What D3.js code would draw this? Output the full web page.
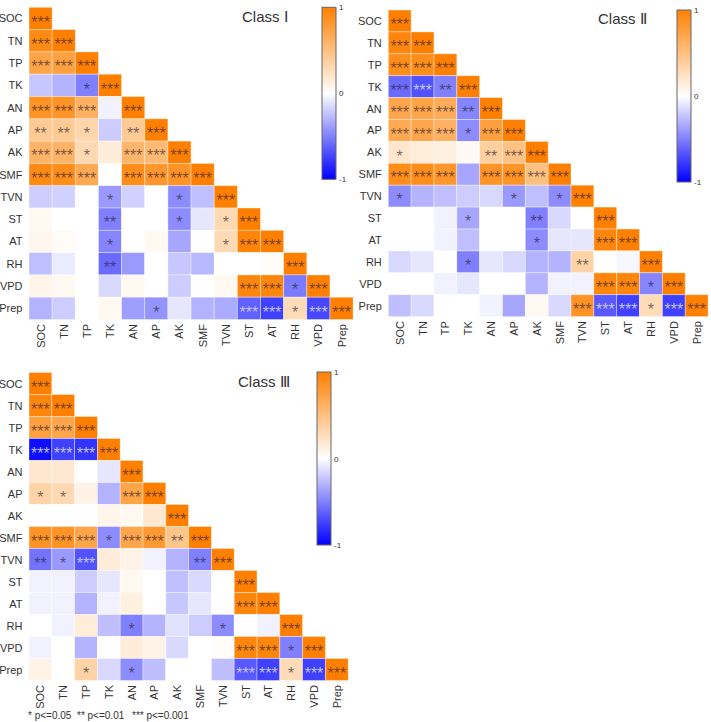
<!DOCTYPE html>
<html><head><meta charset="utf-8">
<script src="https://cdn.jsdelivr.net/npm/d3@7/dist/d3.min.js"></script>
<style>html,body{margin:0;padding:0;background:#fff;}svg{display:block;}</style>
</head><body>
<script>
const variables = ["SOC","TN","TP","TK","AN","AP","AK","SMF","TVN","ST","AT","RH","VPD","Prep"];

const classIValues = [
  [1],
  [0.92, 1],
  [0.72, 0.75, 1],
  [-0.22, -0.3, -0.5, 1],
  [0.85, 0.85, 0.62, -0.05, 1],
  [0.42, 0.42, 0.33, -0.2, 0.42, 1],
  [0.6, 0.6, 0.3, 0.15, 0.58, 0.55, 1],
  [0.92, 0.9, 0.68, 0.0, 0.9, 0.82, 0.85, 1],
  [-0.2, -0.18, 0.0, -0.4, -0.18, 0.0, -0.45, -0.25, 1],
  [0.05, 0.0, 0.0, -0.5, 0.0, 0.0, -0.45, -0.1, 0.3, 1],
  [0.07, 0.03, 0.0, -0.48, 0.0, 0.05, -0.35, 0.0, 0.3, 0.97, 1],
  [-0.25, -0.08, 0.0, -0.58, -0.4, 0.0, -0.22, -0.28, 0.0, 0.0, 0.02, 1],
  [0.08, 0.05, 0.0, -0.15, 0.05, 0.0, -0.2, 0.0, 0.05, 0.95, 0.95, -0.52, 1],
  [-0.3, -0.2, 0.0, 0.05, -0.38, -0.42, -0.1, -0.3, -0.33, -0.62, -0.75, 0.28, -0.72, 1]
];
const classIStars = [
  ["***"],
  ["***","***"],
  ["***","***","***"],
  ["","","*","***"],
  ["***","***","***","","***"],
  ["**","**","*","","**","***"],
  ["***","***","*","","***","***","***"],
  ["***","***","***","","***","***","***","***"],
  ["","","","*","","","*","","***"],
  ["","","","**","","","*","","*","***"],
  ["","","","*","","","","","*","***","***"],
  ["","","","**","","","","","","","","***"],
  ["","","","","","","","","","***","***","*","***"],
  ["","","","","","*","","","","***","***","*","***","***"]
];

const classIIValues = [
  [1],
  [0.95, 1],
  [0.9, 0.9, 1],
  [-0.58, -0.68, -0.5, 1],
  [0.7, 0.72, 0.65, -0.48, 1],
  [0.68, 0.7, 0.62, -0.45, 0.75, 1],
  [0.2, 0.15, 0.12, 0.04, 0.38, 0.48, 1],
  [0.9, 0.9, 0.82, -0.35, 0.85, 0.85, 0.5, 1],
  [-0.45, -0.3, -0.25, -0.2, -0.15, -0.4, -0.25, -0.45, 1],
  [0.0, 0.0, -0.05, -0.35, 0.0, 0.0, -0.5, -0.15, 0.0, 1],
  [0.0, 0.0, -0.05, -0.25, 0.0, 0.0, -0.45, -0.1, -0.1, 0.95, 1],
  [-0.15, -0.1, 0.0, -0.5, -0.1, -0.15, -0.3, -0.3, 0.35, 0.0, -0.03, 1],
  [0.0, 0.0, -0.05, -0.1, 0.0, 0.0, -0.3, -0.05, -0.05, 0.95, 0.95, -0.48, 1],
  [-0.25, -0.15, 0.0, 0.0, -0.05, -0.35, 0.05, -0.15, 0.85, -0.65, -0.75, 0.28, -0.75, 1]
];
const classIIStars = [
  ["***"],
  ["***","***"],
  ["***","***","***"],
  ["***","***","**","***"],
  ["***","***","***","**","***"],
  ["***","***","***","*","***","***"],
  ["*","","","","**","***","***"],
  ["***","***","***","","***","***","***","***"],
  ["*","","","","","*","","*","***"],
  ["","","","*","","","**","","","***"],
  ["","","","","","","*","","","***","***"],
  ["","","","*","","","","","**","","","***"],
  ["","","","","","","","","","***","***","*","***"],
  ["","","","","","","","","***","***","***","*","***","***"]
];

const classIIIValues = [
  [1],
  [0.95, 1],
  [0.75, 0.7, 1],
  [-0.95, -0.75, -0.8, 1],
  [0.2, 0.18, 0.0, -0.1, 1],
  [0.35, 0.3, 0.1, -0.3, 0.72, 1],
  [0.0, 0.0, 0.0, 0.08, 0.05, 0.18, 1],
  [0.85, 0.85, 0.7, -0.45, 0.7, 0.8, 0.45, 1],
  [-0.55, -0.4, -0.68, 0.15, 0.1, -0.05, -0.3, -0.5, 1],
  [-0.05, -0.05, -0.2, -0.1, 0.05, 0.0, -0.25, -0.15, 0.0, 1],
  [-0.05, -0.05, -0.3, -0.05, 0.12, 0.0, -0.22, -0.1, 0.0, 0.95, 1],
  [0.0, -0.05, 0.15, -0.25, -0.5, -0.3, -0.12, -0.2, -0.45, 0.0, -0.05, 1],
  [-0.05, 0.0, -0.3, 0.0, 0.15, 0.1, -0.15, 0.0, 0.02, 0.95, 0.95, -0.5, 1],
  [0.1, 0.0, 0.35, -0.15, -0.45, -0.25, 0.0, 0.0, -0.25, -0.65, -0.75, 0.28, -0.75, 1]
];
const classIIIStars = [
  ["***"],
  ["***","***"],
  ["***","***","***"],
  ["***","***","***","***"],
  ["","","","","***"],
  ["*","*","","","***","***"],
  ["","","","","","","***"],
  ["***","***","***","*","***","***","**","***"],
  ["**","*","***","","","","","**","***"],
  ["","","","","","","","","","***"],
  ["","","","","","","","","","***","***"],
  ["","","","","*","","","","*","","","***"],
  ["","","","","","","","","","***","***","*","***"],
  ["","","*","","*","","","","","***","***","*","***","***"]
];

const titles = ["Class \u2160", "Class \u2161", "Class \u2162"];
const colorbarTicks = [1, 0, -1];
const legendItems = ["* p<=0.05", "** p<=0.01", "*** p<=0.001"];

const W = 711, H = 722;
const svg = d3.select("body").append("svg").attr("width", W).attr("height", H);
const FONT = "'Liberation Sans', Arial, Helvetica, sans-serif";

const color = d3.scaleLinear().domain([-1, 0, 1]).range(["#0000ff", "#ffffff", "#ff8000"]).interpolate(d3.interpolateRgb);

const defs = svg.append("defs");
const grad = defs.append("linearGradient").attr("id", "cbgrad").attr("x1", 0).attr("y1", 0).attr("x2", 0).attr("y2", 1);
d3.range(0, 1.0001, 0.05).forEach(t => {
  grad.append("stop").attr("offset", t).attr("stop-color", color(1 - 2 * t));
});

const panels = [
  {vals: classIValues, stars: classIStars, title: titles[0], x0: 29, y0: 7.3, w: 23.15, h: 22.3,
   cb: {x: 322, y: 7.3, w: 14, h: 172}, tx: 242, ty: 22},
  {vals: classIIValues, stars: classIIStars, title: titles[1], x0: 388.3, y0: 10, w: 22.84, h: 21.9,
   cb: {x: 677, y: 10, w: 14, h: 172}, tx: 598, ty: 24},
  {vals: classIIIValues, stars: classIIIStars, title: titles[2], x0: 29, y0: 372.5, w: 22.8, h: 22,
   cb: {x: 317, y: 372, w: 14, h: 173}, tx: 238, ty: 387}
];

panels.forEach(p => {
  const g = svg.append("g");
  const x = d3.scaleBand().domain(variables).range([p.x0, p.x0 + 14 * p.w]).padding(0);
  const y = d3.scaleBand().domain(variables).range([p.y0, p.y0 + 14 * p.h]).padding(0);

  const cells = [];
  p.vals.forEach((row, i) => row.forEach((v, j) => {
    cells.push({r: variables[i], c: variables[j], v: v, s: p.stars[i][j]});
  }));

  g.selectAll("rect.cell").data(cells).enter().append("rect")
    .attr("class", "cell")
    .attr("x", d => x(d.c)).attr("y", d => y(d.r))
    .attr("width", x.bandwidth()).attr("height", y.bandwidth())
    .attr("fill", d => color(d.v))
    .attr("stroke", "rgba(255,255,255,0.45)").attr("stroke-width", 0.8);

  g.selectAll("text.star").data(cells.filter(d => d.s)).enter().append("text")
    .attr("class", "star")
    .attr("x", d => x(d.c) + x.bandwidth() / 2)
    .attr("y", d => y(d.r) + y.bandwidth() / 2 + 9.2)
    .attr("text-anchor", "middle")
    .attr("font-family", FONT).attr("font-size", 16)
    .attr("fill", d => d.v <= -0.6 ? "#c6caff" : "#2a1a2a")
    .attr("fill-opacity", d => d.v <= -0.6 ? 0.95 : 0.64)
    .text(d => d.s);

  // row labels
  g.selectAll("text.rl").data(variables).enter().append("text")
    .attr("x", p.x0 - 6.5)
    .attr("y", d => y(d) + y.bandwidth() / 2 + 4)
    .attr("text-anchor", "end")
    .attr("font-family", FONT).attr("font-size", 11).attr("fill", "#333")
    .text(d => d);

  // column labels
  const yb = p.y0 + 14 * p.h + 4.5;
  g.selectAll("text.cl").data(variables).enter().append("text")
    .attr("transform", d => `translate(${x(d) + x.bandwidth() / 2 + 4},${yb}) rotate(-90)`)
    .attr("text-anchor", "end")
    .attr("font-family", FONT).attr("font-size", 11).attr("fill", "#333")
    .text(d => d);

  // title
  g.append("text").attr("x", p.tx).attr("y", p.ty)
    .attr("font-family", FONT).attr("font-size", 15).attr("fill", "#333")
    .text(p.title);

  // colorbar
  g.append("rect").attr("x", p.cb.x).attr("y", p.cb.y).attr("width", p.cb.w).attr("height", p.cb.h)
    .attr("fill", "url(#cbgrad)").attr("stroke", "#666").attr("stroke-width", 1);
  const cbScale = d3.scaleLinear().domain([1, -1]).range([p.cb.y, p.cb.y + p.cb.h]);
  g.selectAll("text.cbt").data(colorbarTicks).enter().append("text")
    .attr("x", p.cb.x + p.cb.w + 3)
    .attr("y", d => cbScale(d) + 3)
    .attr("font-family", FONT).attr("font-size", 8).attr("fill", "#333")
    .text(d => d);
});

// significance legend
const legendX = [28, 77, 132];
svg.selectAll("text.leg").data(legendItems).enter().append("text")
  .attr("x", (d, i) => legendX[i]).attr("y", 719)
  .attr("font-family", FONT).attr("font-size", 10).attr("fill", "#333")
  .text(d => d);
</script>
</body></html>
